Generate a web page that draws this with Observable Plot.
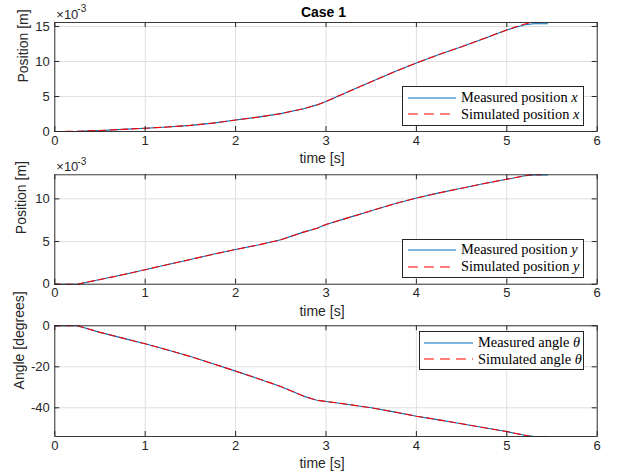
<!DOCTYPE html>
<html><head><meta charset="utf-8">
<script src="https://cdn.jsdelivr.net/npm/d3@7"></script>
<script src="https://cdn.jsdelivr.net/npm/@observablehq/plot@0.6"></script>
<style>
body{margin:0;background:#fff;}
#wrap{position:relative;width:617px;height:476px;overflow:hidden;}
#wrap svg{position:absolute;left:0;overflow:visible;background:transparent;}
.legend{position:absolute;border:1px solid #262626;background:#fff;font-family:"Liberation Serif",serif;font-size:14.4px;color:#000;box-sizing:border-box;}
.row{position:absolute;left:0;height:18px;display:flex;align-items:center;white-space:nowrap;}
.row svg{position:static !important;margin-right:5px;}
</style></head><body><div id="wrap"></div>
<script>
// ---- data (position values in units of 10^-3 m, angle in degrees) ----
const xTicks = [0, 1, 2, 3, 4, 5, 6];

const tMeas = [0, 0.25, 0.5, 0.75, 1, 1.25, 1.5, 1.75, 2, 2.25, 2.5, 2.75, 2.9, 3, 3.25, 3.5, 3.75, 4, 4.25, 4.5, 4.75, 5, 5.1, 5.2, 5.3, 5.45];
const tSim  = [0, 0.25, 0.5, 0.75, 1, 1.25, 1.5, 1.75, 2, 2.25, 2.5, 2.75, 2.9, 3, 3.25, 3.5, 3.75, 4, 4.25, 4.5, 4.75, 5, 5.1, 5.2, 5.27, 5.38];

const posXMeas = [0, 0.03, 0.15, 0.3, 0.47, 0.65, 0.88, 1.2, 1.65, 2.05, 2.55, 3.25, 3.8, 4.3, 5.7, 7.1, 8.5, 9.8, 11.0, 12.1, 13.3, 14.5, 14.9, 15.25, 15.4, 15.4];
const posXSim  = [0, 0.03, 0.15, 0.3, 0.47, 0.65, 0.88, 1.2, 1.65, 2.05, 2.55, 3.25, 3.8, 4.3, 5.7, 7.1, 8.5, 9.8, 11.0, 12.1, 13.3, 14.5, 14.95, 15.35, 15.57, 15.57];

const posYMeas = [0, 0, 0.55, 1.1, 1.7, 2.3, 2.9, 3.5, 4.07, 4.6, 5.2, 6.1, 6.55, 7.0, 7.8, 8.6, 9.4, 10.1, 10.7, 11.25, 11.8, 12.3, 12.5, 12.7, 12.8, 12.8];
const posYSim  = [0, 0, 0.55, 1.1, 1.7, 2.3, 2.9, 3.5, 4.07, 4.6, 5.2, 6.1, 6.55, 7.0, 7.8, 8.6, 9.4, 10.1, 10.7, 11.25, 11.8, 12.3, 12.5, 12.7, 12.82, 12.82];

const angMeas = [0, 0, -3.2, -6.0, -8.8, -11.8, -15.0, -18.5, -22.1, -25.8, -29.6, -34.3, -36.3, -36.9, -38.4, -40.0, -42.0, -44.1, -45.9, -47.8, -49.7, -51.6, -52.5, -53.4, -54.0, -54.0];
const angSim  = [0, 0, -3.2, -6.0, -8.8, -11.8, -15.0, -18.5, -22.1, -25.8, -29.6, -34.3, -36.3, -36.9, -38.4, -40.0, -42.0, -44.1, -45.9, -47.8, -49.7, -51.6, -52.5, -53.4, -54.0, -54.0];

const yTicks1 = [0, 5, 10, 15];
const yTicks2 = [0, 5, 10];
const yTicks3 = [-40, -20, 0];

const ink = "#262626";
const sans = "Liberation Sans, Arial, Helvetica, sans-serif";
const wrap = document.getElementById("wrap");

function panel(cfg) {
  const {top, height, mT, mB, yDomain, yTicks, tm, vm, ts, vs, ylab, ylabDx, ylabDy, exp, title} = cfg;
  const mL = 54.3, mR = 20.3;
  const W = 617 - mL - mR, H = height - mT - mB;
  const meas = tm.map((t, i) => ({t, v: vm[i]}));
  const sim = ts.map((t, i) => ({t, v: vs[i]}));
  const txt = {fontFamily: sans, fill: ink, lineAnchor: "middle"};
  const marks = [
    Plot.ruleX(xTicks, {x: d => d, stroke: "#dfdfdf", strokeWidth: 1}),
    Plot.ruleY(yTicks, {y: d => d, stroke: "#dfdfdf", strokeWidth: 1}),
    Plot.line(meas, {x: "t", y: "v", stroke: "#0072BD", strokeWidth: 1.1}),
    Plot.line(sim, {x: "t", y: "v", stroke: "#FF0000", strokeWidth: 1.1, strokeDasharray: "7,4"}),
    Plot.frame({stroke: ink, strokeWidth: 0.9}),
    Plot.tickX(xTicks, {x: d => d, insetTop: H - 5, stroke: ink}),
    Plot.tickX(xTicks, {x: d => d, insetBottom: H - 5, stroke: ink}),
    Plot.tickY(yTicks, {y: d => d, insetRight: W - 5, stroke: ink}),
    Plot.tickY(yTicks, {y: d => d, insetLeft: W - 5, stroke: ink}),
    Plot.text(xTicks, {x: d => d, text: d => String(d), frameAnchor: "bottom", dy: 9, fontSize: 13, ...txt}),
    Plot.text(yTicks, {y: d => d, text: d => String(d), frameAnchor: "left", dx: -5, textAnchor: "end", fontSize: 13, ...txt}),
    Plot.text(["time [s]"], {text: d => d, frameAnchor: "bottom", dy: 27, dx: -4, fontSize: 14, ...txt}),
    Plot.text([ylab], {text: d => d, frameAnchor: "left", rotate: -90, dx: ylabDx, dy: ylabDy, fontSize: 14, ...txt})
  ];
  if (exp) {
    marks.push(Plot.text(["\u00d710"], {text: d => d, frameAnchor: "top-left", textAnchor: "start", dx: 1.5, dy: -8, fontSize: 13, ...txt}));
    marks.push(Plot.text(["-3"], {text: d => d, frameAnchor: "top-left", textAnchor: "start", dx: 22.5, dy: -13.5, fontSize: 10, ...txt}));
  }
  if (title) {
    marks.push(Plot.text([title], {text: d => d, frameAnchor: "top", dy: -10, dx: -2.5, fontSize: 14, fontWeight: "bold", fontFamily: sans, fill: "#000", lineAnchor: "middle"}));
  }
  const svg = Plot.plot({
    width: 617, height,
    marginTop: mT, marginBottom: mB, marginLeft: mL, marginRight: mR,
    x: {domain: [0, 6], axis: null},
    y: {domain: yDomain, axis: null},
    style: {background: "transparent", overflow: "visible"},
    marks
  });
  svg.style.position = "absolute";
  svg.style.top = top + "px";
  svg.style.left = "0px";
  wrap.appendChild(svg);
}

panel({top: 0, height: 160, mT: 22, mB: 29, yDomain: [0, 15.57], yTicks: yTicks1,
  tm: tMeas, vm: posXMeas, ts: tSim, vs: posXSim, ylab: "Position [m]", ylabDx: -31, ylabDy: 5.5, exp: true, title: "Case 1"});
panel({top: 160, height: 150, mT: 14.3, mB: 26.3, yDomain: [0, 12.82], yTicks: yTicks2,
  tm: tMeas, vm: posYMeas, ts: tSim, vs: posYSim, ylab: "Position [m]", ylabDx: -33.5, ylabDy: 4.7, exp: true});
panel({top: 310, height: 166, mT: 15.3, mB: 40, yDomain: [-54, 0], yTicks: yTicks3,
  tm: tMeas, vm: angMeas, ts: tSim, vs: angSim, ylab: "Angle [degrees]", ylabDx: -35, ylabDy: 8.3});

// ---- legends ----
function legend(left, top, width, height, rows, lineLeft, lineW) {
  const box = document.createElement("div");
  box.className = "legend";
  Object.assign(box.style, {left: left + "px", top: top + "px", width: width + "px", height: height + "px"});
  rows.forEach(r => {
    const row = document.createElement("div");
    row.className = "row";
    row.style.top = (r.y - 9) + "px";
    row.style.left = lineLeft + "px";
    const dash = r.dashed ? ' stroke-dasharray="10,6"' : "";
    row.innerHTML = `<svg width="${lineW}" height="4"><line x1="0" y1="2" x2="${lineW}" y2="2" stroke="${r.color}" stroke-width="1.1"${dash}/></svg><span>${r.label}</span>`;
    box.appendChild(row);
  });
  wrap.appendChild(box);
}
legend(402, 86, 182, 40, [
  {y: 10.7, color: "#0072BD", label: "Measured position <i>x</i>"},
  {y: 27.3, color: "#FF0000", dashed: true, label: "Simulated position <i>x</i>"}
], 5, 48);
legend(402, 239.3, 182, 38.5, [
  {y: 9.5, color: "#0072BD", label: "Measured position <i>y</i>"},
  {y: 26.5, color: "#FF0000", dashed: true, label: "Simulated position <i>y</i>"}
], 5, 48);
legend(419, 331, 165, 39, [
  {y: 10.8, color: "#0072BD", label: "Measured angle <i>&theta;</i>"},
  {y: 27.2, color: "#FF0000", dashed: true, label: "Simulated angle <i>&theta;</i>"}
], 4, 49);
</script>
</body></html>
